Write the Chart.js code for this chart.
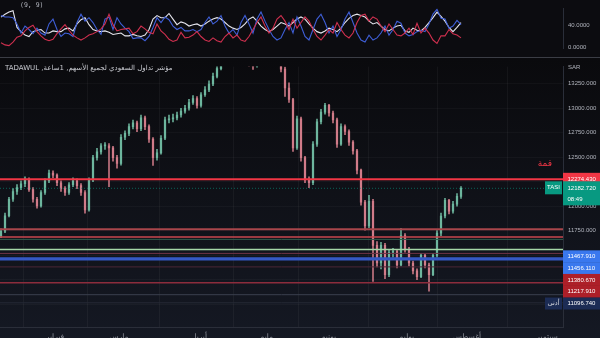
<!DOCTYPE html>
<html>
<head>
<meta charset="utf-8">
<script src="https://cdn.jsdelivr.net/npm/chart.js@4.4.1/dist/chart.umd.min.js"></script>
<style>
  html, body { margin: 0; padding: 0; width: 600px; height: 338px; overflow: hidden; background: #0c0c10; }
  #top { position: absolute; left: 0; top: 0; width: 600px; height: 57px; }
  #sep { position: absolute; left: 0; top: 57px; width: 600px; height: 1px; background: #3b3d45; }
  #main { position: absolute; left: 0; top: 58px; width: 600px; height: 292px; }
</style>
</head>
<body>
<div id="top"><canvas id="dmiChart"></canvas></div>
<div id="sep"></div>
<div id="main"><canvas id="priceChart"></canvas></div>
<script>
// TASI hourly candles (one entry every few hours)
const firstOpen = 11700;
const closes = [
  11745, 11903, 12071, 12150, 12190, 12229, 12269, 12170, 12071, 12002,
  12140, 12259, 12338, 12318, 12239, 12180, 12140, 12219, 12259, 12210,
  12140, 11962, 12269, 12496, 12555, 12615, 12615, 12595, 12496, 12437,
  12704, 12743, 12812, 12852, 12792, 12901, 12812, 12684, 12496, 12545,
  12694, 12881, 12891, 12901, 12931, 12970, 13000, 13059, 13099, 13030,
  13138, 13188, 13247, 13326, 13405, 13490, 13540, 13610, 13690, 13660,
  13590, 13510, 13460, 13430, 13510, 13630, 13760, 13810, 13700, 13540,
  13400, 13207, 13089, 12595, 12891, 12496, 12269, 12239, 12634, 12862,
  12960, 13030, 12951, 12881, 12634, 12812, 12763, 12654, 12565, 12368,
  12042, 11800, 12050, 11600, 11420, 11600, 11300, 11528, 11540, 11400,
  11700, 11560, 11420, 11340, 11280, 11498, 11400, 11300, 11498, 11725,
  11900, 12060, 11950, 12022, 12101, 12182.72
];
const highs = [
  11770, 11930, 12090, 12180, 12220, 12260, 12300, 12290, 12190, 12090,
  12160, 12280, 12370, 12360, 12330, 12260, 12200, 12240, 12290, 12280,
  12230, 12160, 12290, 12520, 12590, 12640, 12650, 12640, 12610, 12520,
  12730, 12770, 12840, 12880, 12870, 12930, 12920, 12830, 12700, 12580,
  12720, 12910, 12930, 12940, 12960, 13000, 13030, 13090, 13130, 13120,
  13160, 13220, 13280, 13360, 13440, 13520, 13580, 13650, 13730, 13720,
  13680, 13610, 13530, 13480, 13540, 13660, 13800, 13850, 13830, 13720,
  13560, 13420, 13260, 13100, 12920, 12910, 12510, 12300, 12660, 12890,
  12990, 13050, 13040, 12970, 12900, 12840, 12830, 12780, 12670, 12580,
  12380, 12060, 12110, 12070, 11640, 11630, 11620, 11550, 11570, 11560,
  11775, 11720, 11580, 11440, 11360, 11520, 11510, 11420, 11520, 11750,
  11930, 12080, 12070, 12050, 12130, 12200
];
const lows = [
  11680, 11730, 11890, 12050, 12120, 12170, 12200, 12150, 12040, 11980,
  11990, 12120, 12240, 12290, 12210, 12150, 12110, 12120, 12200, 12180,
  12110, 11930, 11950, 12250, 12470, 12530, 12580, 12200, 12460, 12387,
  12420, 12680, 12720, 12790, 12760, 12770, 12780, 12650, 12417, 12470,
  12530, 12680, 12850, 12860, 12880, 12910, 12950, 12980, 13040, 13000,
  13010, 13120, 13170, 13230, 13310, 13390, 13470, 13520, 13590, 13630,
  13560, 13480, 13430, 13395, 13420, 13490, 13610, 13740, 13670, 13510,
  13370, 13120, 13060, 12560, 12580, 12460, 12240, 12190, 12220, 12610,
  12840, 12940, 12920, 12850, 12600, 12620, 12730, 12620, 12530, 12330,
  12010, 11755, 11780, 11231, 11380, 11360, 11261, 11280, 11480, 11370,
  11390, 11530, 11390, 11310, 11251, 11270, 11370, 11132, 11290, 11480,
  11700, 11880, 11920, 11930, 12000, 12080
];

// DMI (9, 9) panel
const adx = [
  54, 59, 63, 65.5, 35.5, 28, 21.8, 19.3, 28, 30.5,
  31.8, 25.5, 25.5, 29.3, 28, 28, 33, 34.3, 29.3, 41.8,
  49.3, 53, 40.5, 31.8, 29.3, 28, 29.3, 26.8, 23, 24.3,
  25.5, 20.5, 20.5, 23, 20.5, 19.3, 21.8, 31.8, 50.5, 56.8,
  53, 53, 60.5, 50.5, 40.5, 45.5, 43, 38, 40.5, 41.8,
  38, 41.8, 46.8, 50.5, 53, 50.5, 44.3, 38, 34.3, 31.8,
  35.5, 41.8, 50.5, 54.3, 46.8, 38, 31.8, 28, 31.8, 38,
  44.3, 41.8, 38, 44.3, 50.5, 54.3, 50.5, 41.8, 34.3, 28,
  25.5, 29.3, 34.3, 31.8, 28, 34.3, 44.3, 51.8, 56.8, 59.3,
  56.8, 54.3, 46.8, 41.8, 44.3, 38, 31.8, 29.3, 34.3, 38,
  39.3, 29.3, 26.8, 34.3, 30.5, 29.3, 35.5, 44.3, 53, 63,
  55.5, 46.8, 35.5, 28, 35.5, 44.3
];
const plusDI = [
  56.8, 54.3, 54.3, 53, 41.8, 25.5, 38, 31.8, 24.3, 34.3,
  25.5, 21.8, 41.8, 50.5, 31.8, 19.3, 25.5, 24.3, 19.3, 44.3,
  59.3, 46.8, 53, 44.3, 31.8, 23, 50.5, 54.3, 31.8, 53,
  41.8, 34.3, 28, 15.5, 16.8, 16.8, 11.8, 19.3, 35.5, 53,
  44.3, 54.3, 49.3, 38, 31.8, 35.5, 29.3, 29.3, 31.8, 28,
  31.8, 44.3, 54.3, 41.8, 46.8, 56.8, 38, 25.5, 31.8, 21.8,
  44.3, 56.8, 41.8, 25.5, 50.5, 63, 46.8, 31.8, 19.3, 13,
  16.8, 31.8, 44.3, 25.5, 54.3, 38, 19.3, 13, 31.8, 50.5,
  59.3, 44.3, 25.5, 38, 19.3, 31.8, 50.5, 63, 44.3, 25.5,
  13, 9.3, 21.8, 13, 16.8, 25.5, 38, 21.8, 31.8, 46.8,
  43, 25.5, 20.5, 23, 28, 30.5, 28, 41.8, 59.3, 68,
  51.8, 50.5, 34.3, 38, 48, 40.5
];
const minusDI = [
  8, 4.3, 3, 9.3, 18, 20.5, 29.3, 35.5, 39.3, 28,
  20.5, 14.3, 11.8, 14.3, 24.3, 33, 40.5, 30.5, 21.8, 16.8,
  13, 16.8, 21.8, 24.3, 28, 33, 41.8, 59.3, 40.5, 29.3,
  31.8, 33, 34.3, 24.3, 28, 38, 33, 26.8, 24.3, 41.8,
  29.3, 23, 14.3, 10.5, 13, 26.8, 16.8, 18, 21.8, 28,
  19.3, 13, 10.5, 16.8, 11.8, 9.3, 19.3, 25.5, 16.8, 21.8,
  13, 10.5, 19.3, 31.8, 44.3, 54.3, 38, 25.5, 34.3, 50.5,
  56.8, 46.8, 31.8, 50.5, 34.3, 44.3, 54.3, 46.8, 31.8, 19.3,
  13, 21.8, 31.8, 25.5, 44.3, 31.8, 21.8, 16.8, 25.5, 44.3,
  56.8, 59.3, 46.8, 54.3, 50.5, 38, 28, 41.8, 31.8, 21.8,
  20.5, 25.5, 34.3, 23, 43, 25.5, 34.3, 25.5, 13, 6.8,
  20.5, 20.5, 31.8, 24.3, 21.8, 16.8
];
const dmiTicks = [0, 40];

// Axes
const priceTicks = [11000, 11250, 11500, 11750, 12000, 12250, 12500, 12750, 13000, 13250];
const monthNames = ['فبراير', 'مارس', 'أبريل', 'مايو', 'يونيو', 'يوليو', 'أغسطس', 'سبتمبر'];
const monthStarts = [13.5, 29.5, 49.5, 66.5, 82, 101.5, 116.5, 136.5];

// Horizontal levels drawn on the chart
const levels = [12274.43, 11765, 11686, 11661, 11557, 11518, 11467.91, 11456.11, 11380.67, 11217.91, 11096.74, 11014];
const levelColors = ['#f23645', '#a8464b', '#c9474f', '#2f5a4a', '#a5d6a7', '#6d3346', '#3558c4', '#3558c4', '#4a2535', '#8c2c3c', '#3a3f4e', '#262a36'];
const levelWidths = [2, 2, 1.5, 1, 1.5, 1, 2, 2, 1, 1.5, 1, 1];

// Price tags on the right axis
const peakLevel = 12274.43;
const peakName = 'قمة';
const tagLevels = [11467.91, 11456.11, 11380.67, 11217.91, 11096.74];
const tagColors = ['#3a78ee', '#3a78ee', '#ad1f28', '#ad1f28', '#1c2c55'];
const lowName = 'أدنى';
const symbol = 'TASI';
const lastTime = '08:49';
const title = 'مؤشر تداول السعودي لجميع الأسهم, 1ساعة, TADAWUL';

const upColor = 'rgba(112,186,162,0.9)';
const downColor = 'rgba(214,126,140,0.9)';
const tickFont = { family: 'Liberation Sans', size: 6 };

const opens = closes.map((c, i) => (i === 0 ? firstOpen : closes[i - 1]));
const candleColors = closes.map((c, i) => (c >= opens[i] ? upColor : downColor));
const lastPrice = closes[closes.length - 1];

// Top indicator panel
new Chart(document.getElementById('dmiChart'), {
  type: 'line',
  data: {
    datasets: [
      { data: minusDI.map((v, i) => ({ x: i, y: v })), borderColor: '#d0304f', borderWidth: 1.1 },
      { data: plusDI.map((v, i) => ({ x: i, y: v })), borderColor: '#3f5fd8', borderWidth: 1.1 },
      { data: adx.map((v, i) => ({ x: i, y: v })), borderColor: '#e6e6ee', borderWidth: 1.1 },
    ],
  },
  options: {
    animation: false,
    responsive: true,
    maintainAspectRatio: false,
    layout: { padding: 0 },
    elements: { point: { radius: 0 }, line: { tension: 0 } },
    plugins: { legend: { display: false }, tooltip: { enabled: false } },
    scales: {
      x: { type: 'linear', display: false, min: -0.25, max: 140.5, offset: false },
      y: {
        position: 'right',
        min: -2,
        max: 69.25,
        afterBuildTicks: (s) => { s.ticks = dmiTicks.map((v) => ({ value: v })); },
        afterFit: (s) => { s.width = 37; },
        ticks: { color: '#b2b5be', font: tickFont, padding: 5, callback: (v) => v.toFixed(4) },
        grid: { display: false, drawTicks: false },
        border: { color: '#2a2e39' },
      },
    },
  },
  plugins: [{
    id: 'dmiLabel',
    afterDraw(chart) {
      const ctx = chart.ctx;
      ctx.save();
      ctx.fillStyle = '#b2b5be';
      ctx.font = '6.5px "DejaVu Sans Mono"';
      ctx.textBaseline = 'middle';
      ctx.fillText('(9, 9)', 20, 5);
      ctx.restore();
    },
  }],
});

// Main price panel
new Chart(document.getElementById('priceChart'), {
  type: 'bar',
  data: {
    datasets: [
      {
        data: closes.map((c, i) => ({ x: i, y: [lows[i], highs[i]] })),
        backgroundColor: candleColors,
        barThickness: 1,
        grouped: false,
        order: 2,
      },
      {
        data: closes.map((c, i) => ({ x: i, y: [opens[i], c] })),
        backgroundColor: candleColors,
        barThickness: 1.6,
        minBarLength: 1,
        grouped: false,
        order: 1,
      },
    ],
  },
  options: {
    animation: false,
    responsive: true,
    maintainAspectRatio: false,
    layout: { padding: 0 },
    plugins: { legend: { display: false }, tooltip: { enabled: false } },
    scales: {
      x: {
        type: 'linear',
        min: -0.25,
        max: 140.5,
        offset: false,
        afterBuildTicks: (s) => { s.ticks = monthStarts.map((v) => ({ value: v })); },
        afterFit: (s) => { s.height = 23; },
        ticks: {
          color: '#9598a1',
          font: { family: 'DejaVu Sans', size: 7.5 },
          padding: 6,
          maxRotation: 0,
          autoSkip: false,
          callback: (v, idx) => monthNames[idx],
        },
        grid: { color: 'rgba(255,255,255,0.045)', drawTicks: false },
        border: { color: '#2a2e39' },
      },
      y: {
        position: 'right',
        min: 10767,
        max: 13425,
        afterBuildTicks: (s) => { s.ticks = priceTicks.map((v) => ({ value: v })); },
        afterFit: (s) => { s.width = 37; },
        ticks: { color: '#b2b5be', font: tickFont, padding: 5, callback: (v) => v.toFixed(3) },
        grid: { color: 'rgba(255,255,255,0.03)', drawTicks: false },
        border: { color: '#2a2e39' },
      },
    },
  },
  plugins: [{
    id: 'overlay',
    beforeDraw(chart) {
      const ctx = chart.ctx;
      const g = ctx.createLinearGradient(0, 0, 0, chart.height);
      g.addColorStop(0, '#0a0a0d');
      g.addColorStop(1, '#151924');
      ctx.save();
      ctx.fillStyle = g;
      ctx.fillRect(0, 0, chart.width, chart.height);
      ctx.restore();
    },
    afterDatasetsDraw(chart) {
      const ctx = chart.ctx;
      const y = chart.scales.y;
      const area = chart.chartArea;
      ctx.save();
      levels.forEach((lv, i) => {
        const py = y.getPixelForValue(lv);
        ctx.strokeStyle = levelColors[i];
        ctx.lineWidth = levelWidths[i];
        ctx.beginPath();
        ctx.moveTo(area.left, py);
        ctx.lineTo(area.right, py);
        ctx.stroke();
      });
      // current price line
      const lp = y.getPixelForValue(lastPrice);
      ctx.strokeStyle = 'rgba(8,153,129,0.6)';
      ctx.lineWidth = 1;
      ctx.setLineDash([1, 2]);
      ctx.beginPath();
      ctx.moveTo(area.left, lp);
      ctx.lineTo(area.right, lp);
      ctx.stroke();
      ctx.restore();
    },
    afterDraw(chart) {
      const ctx = chart.ctx;
      const y = chart.scales.y;
      const ax = chart.chartArea.right;
      ctx.save();
      ctx.textBaseline = 'middle';

      // title and currency
      ctx.fillStyle = '#c8cad0';
      ctx.font = '7px "DejaVu Sans"';
      ctx.direction = 'rtl';
      ctx.textAlign = 'left';
      ctx.fillText(title, 5, 10);
      ctx.direction = 'ltr';
      ctx.fillStyle = '#b2b5be';
      ctx.font = '6px "Liberation Sans"';
      ctx.fillText('SAR', ax + 5, 9);

      const tag = (py, h, text, bg) => {
        ctx.fillStyle = bg;
        ctx.fillRect(ax, py - h / 2, 37, h);
        ctx.fillStyle = '#ffffff';
        ctx.font = '6px "Liberation Sans"';
        ctx.textAlign = 'left';
        ctx.fillText(text, ax + 4.5, py);
      };

      // peak level
      const pp = y.getPixelForValue(peakLevel);
      tag(pp, 13, peakLevel.toFixed(3), '#f23645');
      ctx.fillStyle = '#f23645';
      ctx.font = '9px "DejaVu Sans"';
      ctx.textAlign = 'right';
      ctx.fillText(peakName, ax - 11, pp - 16);

      // last price
      const lp = y.getPixelForValue(lastPrice);
      ctx.fillStyle = '#089981';
      ctx.fillRect(ax, lp - 7, 37, 24);
      ctx.fillRect(ax - 18, lp - 7, 17, 13);
      ctx.fillStyle = '#ffffff';
      ctx.font = '6px "Liberation Sans"';
      ctx.textAlign = 'left';
      ctx.fillText(lastPrice.toFixed(3), ax + 4.5, lp);
      ctx.fillText(lastTime, ax + 4.5, lp + 11);
      ctx.textAlign = 'center';
      ctx.fillText(symbol, ax - 9.5, lp - 0.5);

      // stacked tags
      let prev = -Infinity;
      tagLevels.forEach((lv, i) => {
        let py = y.getPixelForValue(lv) - (i === 0 ? 2 : 0);
        py = Math.max(py, prev + 11.8);
        prev = py;
        tag(py, 12, lv.toFixed(3), tagColors[i]);
        if (i === tagLevels.length - 1) {
          ctx.fillStyle = tagColors[i];
          ctx.fillRect(ax - 18, py - 6, 17, 12);
          ctx.fillStyle = '#d8dae0';
          ctx.font = '6.5px "DejaVu Sans"';
          ctx.textAlign = 'center';
          ctx.fillText(lowName, ax - 9.5, py);
        }
      });
      ctx.restore();
    },
  }],
});
</script>
</body>
</html>
